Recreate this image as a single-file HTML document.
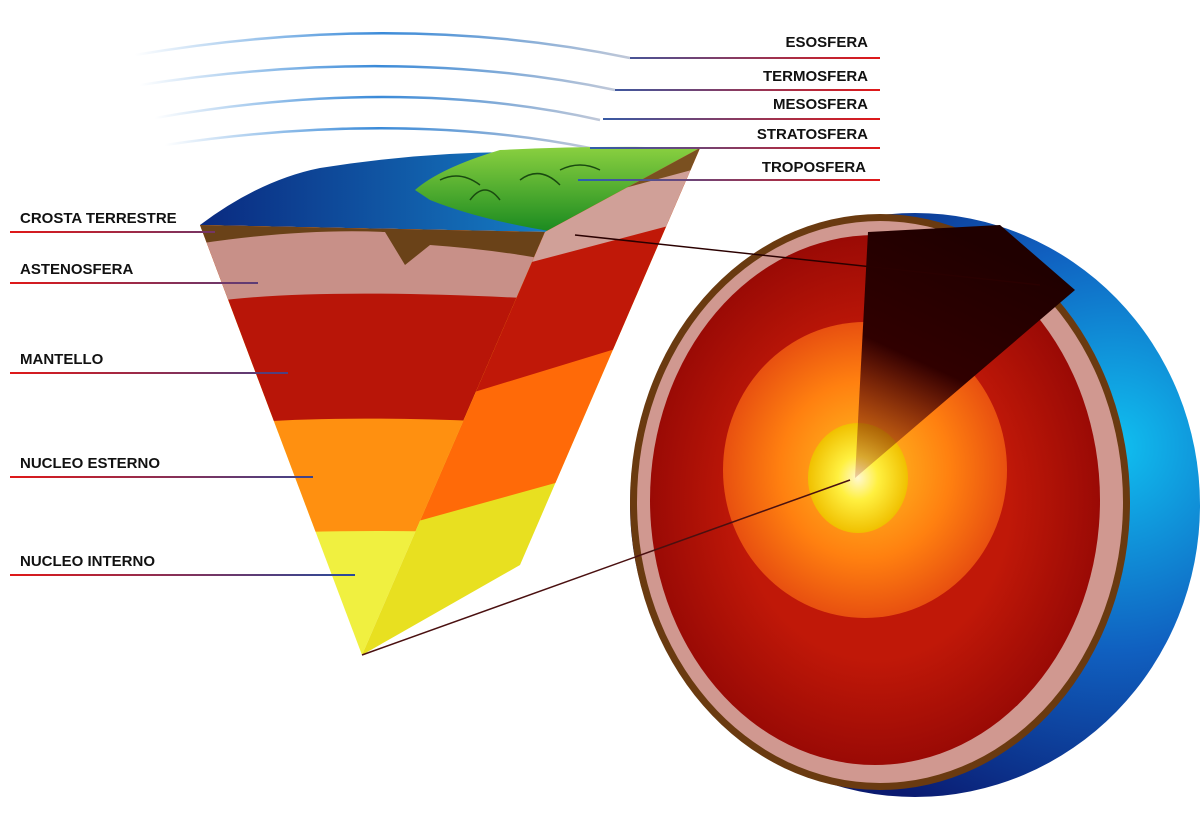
<!DOCTYPE html>
<html><head><style>
body{margin:0;background:#fff;}
svg{display:block;}
text{font-family:"Liberation Sans",sans-serif;font-weight:bold;font-size:15px;fill:#111;}
</style></head><body>
<svg width="1200" height="825" viewBox="0 0 1200 825">
<defs>
<linearGradient id="ln" gradientUnits="userSpaceOnUse" x1="10" y1="0" x2="350" y2="0"><stop offset="0" stop-color="#e01818"/><stop offset="1" stop-color="#2a4a9a"/></linearGradient>
<linearGradient id="lnr" gradientUnits="userSpaceOnUse" x1="580" y1="0" x2="880" y2="0"><stop offset="0" stop-color="#2a60b0"/><stop offset="1" stop-color="#e01818"/></linearGradient>
<linearGradient id="arc" x1="0" x2="1"><stop offset="0" stop-color="#fff"/><stop offset=".5" stop-color="#3a8ad8"/><stop offset="1" stop-color="#c0c8d8"/></linearGradient>
<linearGradient id="sea" x1="0" x2="1"><stop offset="0" stop-color="#0a2a80"/><stop offset="1" stop-color="#1aa0e0"/></linearGradient>
<linearGradient id="land" x1="0" y1="0" x2="0" y2="1"><stop offset="0" stop-color="#8ad040"/><stop offset="1" stop-color="#1a8a20"/></linearGradient>
<radialGradient id="sph" cx=".85" cy=".4" r=".7"><stop offset="0" stop-color="#10c0f0"/><stop offset=".5" stop-color="#1060c0"/><stop offset="1" stop-color="#0a1a70"/></radialGradient>
<radialGradient id="core" cx=".5" cy=".5" r=".5"><stop offset="0" stop-color="#fff8d0"/><stop offset=".4" stop-color="#fff040"/><stop offset="1" stop-color="#f0c000"/></radialGradient>
<radialGradient id="oc" cx=".5" cy=".5" r=".5"><stop offset="0" stop-color="#ffc020"/><stop offset=".6" stop-color="#ff8010"/><stop offset="1" stop-color="#e85010"/></radialGradient>
<radialGradient id="mt" cx=".5" cy=".5" r=".5"><stop offset=".6" stop-color="#c01808"/><stop offset="1" stop-color="#9a0a05"/></radialGradient>
<linearGradient id="wd" x1="0" y1="1" x2=".4" y2="0"><stop offset="0" stop-color="#a02010" stop-opacity=".2"/><stop offset=".5" stop-color="#300000"/><stop offset="1" stop-color="#200000"/></linearGradient>
<clipPath id="ff"><polygon points="200,225 545,232 362,655"/></clipPath>
<clipPath id="rf"><polygon points="545,232 700,148 520,565 362,655"/></clipPath>
</defs>
<path d="M135,55 Q400,10 630,58" stroke="url(#arc)" stroke-width="2.5" fill="none"/>
<path d="M140,85 Q400,45 615,90" stroke="url(#arc)" stroke-width="2.5" fill="none"/>
<path d="M155,118 Q400,75 600,120" stroke="url(#arc)" stroke-width="2.5" fill="none"/>
<path d="M165,145 Q400,110 590,148" stroke="url(#arc)" stroke-width="2.5" fill="none"/>
<path d="M200,225 Q260,180 320,168 Q420,152 520,152 L700,148 L545,232 Z" fill="url(#sea)"/>
<path d="M415,190 Q440,168 500,150 Q600,145 700,148 L555,232 Q480,220 430,200 Z" fill="url(#land)"/>
<path d="M440,180 q20,-10 40,5 M470,200 q15,-20 30,0 M520,180 q20,-15 40,5 M560,170 q20,-10 40,0" stroke="#1a4a10" stroke-width="1.5" fill="none"/>
<g clip-path="url(#ff)">
<rect x="190" y="140" width="380" height="530" fill="#f0f040"/>
<path d="M190,540 Q300,525 560,535 L560,140 L190,140Z" fill="#ff9010"/>
<path d="M190,430 Q300,410 560,425 L560,140 L190,140Z" fill="#b81508"/>
<path d="M190,305 Q300,285 560,300 L560,140 L190,140Z" fill="#c89088"/>
<path d="M190,245 Q300,228 385,232 L405,265 L430,245 Q500,250 560,262 L560,140 L190,140Z" fill="#6a4218"/>
</g>
<g clip-path="url(#rf)">
<rect x="350" y="140" width="360" height="530" fill="#e8e020"/>
<path d="M350,540 L710,440 L710,140 L350,140Z" fill="#ff6a08"/>
<path d="M350,430 L710,320 L710,140 L350,140Z" fill="#c01808"/>
<path d="M350,310 L710,215 L710,140 L350,140Z" fill="#d0a098"/>
<path d="M350,262 L710,165 L710,140 L350,140Z" fill="#7a5020"/>
</g>
<ellipse cx="915" cy="505" rx="285" ry="292" fill="url(#sph)"/>
<ellipse cx="880" cy="502" rx="250" ry="288" fill="#6a3a10"/>
<ellipse cx="880" cy="502" rx="243" ry="281" fill="#d09890"/>
<ellipse cx="875" cy="500" rx="225" ry="265" fill="url(#mt)"/>
<ellipse cx="865" cy="470" rx="142" ry="148" fill="url(#oc)"/>
<ellipse cx="858" cy="478" rx="50" ry="55" fill="url(#core)"/>
<polygon points="855,478 868,232 1000,225 1075,290" fill="url(#wd)"/>
<line x1="575" y1="235" x2="1040" y2="285" stroke="#2a0000" stroke-width="1.5"/>
<line x1="362" y1="655" x2="850" y2="480" stroke="#4a1010" stroke-width="1.5"/>
<text x="868" y="47" text-anchor="end">ESOSFERA</text>
<rect x="630" y="57" width="250" height="2" fill="url(#lnr)"/>
<text x="868" y="81" text-anchor="end">TERMOSFERA</text>
<rect x="615" y="89" width="265" height="2" fill="url(#lnr)"/>
<text x="868" y="109" text-anchor="end">MESOSFERA</text>
<rect x="603" y="118" width="277" height="2" fill="url(#lnr)"/>
<text x="868" y="139" text-anchor="end">STRATOSFERA</text>
<rect x="590" y="147" width="290" height="2" fill="url(#lnr)"/>
<text x="866" y="172" text-anchor="end">TROPOSFERA</text>
<rect x="578" y="179" width="302" height="2" fill="url(#lnr)"/>
<text x="20" y="223">CROSTA TERRESTRE</text>
<rect x="10" y="231" width="205" height="2" fill="url(#ln)"/>
<text x="20" y="274">ASTENOSFERA</text>
<rect x="10" y="282" width="248" height="2" fill="url(#ln)"/>
<text x="20" y="364">MANTELLO</text>
<rect x="10" y="372" width="278" height="2" fill="url(#ln)"/>
<text x="20" y="468">NUCLEO ESTERNO</text>
<rect x="10" y="476" width="303" height="2" fill="url(#ln)"/>
<text x="20" y="566">NUCLEO INTERNO</text>
<rect x="10" y="574" width="345" height="2" fill="url(#ln)"/>
</svg>
</body></html>
